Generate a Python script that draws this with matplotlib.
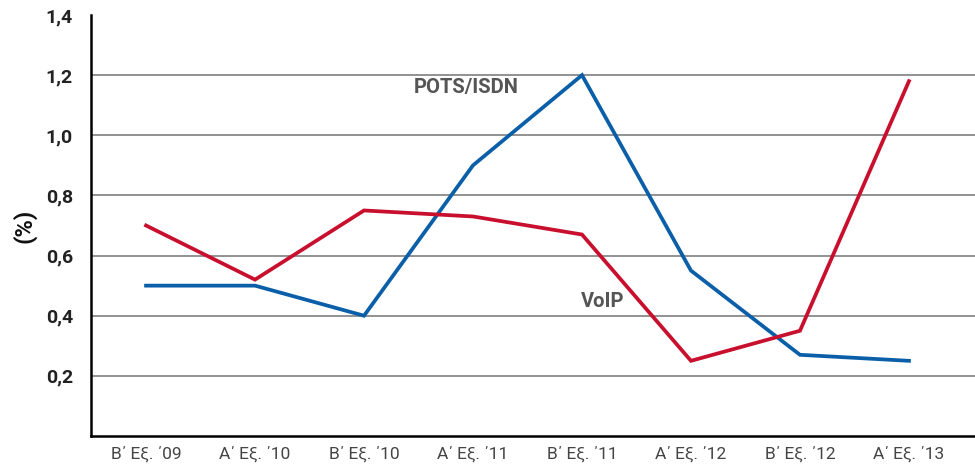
import matplotlib
matplotlib.use("Agg")
import matplotlib.pyplot as plt

categories = ["Β΄ Εξ. ΄09", "Α΄ Εξ. ΄10", "Β΄ Εξ. ΄10", "Α΄ Εξ. ΄11",
              "Β΄ Εξ. ΄11", "Α΄ Εξ. ΄12", "Β΄ Εξ. ΄12", "Α΄ Εξ. ΄13"]
pots_isdn = [0.50, 0.50, 0.40, 0.90, 1.20, 0.55, 0.27, 0.25]
voip = [0.70, 0.52, 0.75, 0.73, 0.67, 0.25, 0.35, 1.18]
yticks = [0.2, 0.4, 0.6, 0.8, 1.0, 1.2, 1.4]
ytick_labels = ["0,2", "0,4", "0,6", "0,8", "1,0", "1,2", "1,4"]

plt.rcParams['font.family'] = ['Roboto', 'DejaVu Sans']

fig = plt.figure(figsize=(9.75, 4.68), dpi=100)
ax = fig.add_axes([91/975, 1-436/468, 1-91/975, (436-15)/468])

x = list(range(len(categories)))
for v in [0.2, 0.4, 0.6, 0.8, 1.0, 1.2]:
    ax.axhline(v, color="#7f7f7f", lw=1.2, zorder=1)

ax.plot(x, pots_isdn, color="#0a5fa8", lw=2.7, zorder=3, solid_joinstyle="miter")
ax.plot(x, voip, color="#c8102e", lw=2.7, zorder=3, solid_joinstyle="miter")

ax.set_xlim(-0.505, 7.606)
ax.set_ylim(0, 1.4)
ax.set_xticks(x)
ax.set_xticklabels(categories, color="#444444", fontsize=12.5)
ax.set_yticks(yticks)
ax.set_yticklabels(ytick_labels, fontsize=14, fontweight="bold", color="#222222")
ax.tick_params(axis="both", length=0)
ax.tick_params(axis="x", pad=8)
ax.tick_params(axis="y", pad=13)

for s in ["top", "right"]:
    ax.spines[s].set_visible(False)
ax.spines["left"].set_linewidth(1.8)
ax.spines["bottom"].set_linewidth(1.8)
ax.spines["left"].set_color("black")
ax.spines["bottom"].set_color("black")

ax.set_ylabel("(%)", fontsize=17, fontweight="bold", color="#111111")
ax.yaxis.set_label_coords(-0.062, 0.5)

ax.text(2.94, 1.16, "POTS/ISDN", fontsize=14.5, fontweight="bold", color="#555555",
        ha="center", va="center")
ax.text(4.19, 0.447, "VoIP", fontsize=14.5, fontweight="bold", color="#555555",
        ha="center", va="center")

fig.savefig("out.png", dpi=100)
